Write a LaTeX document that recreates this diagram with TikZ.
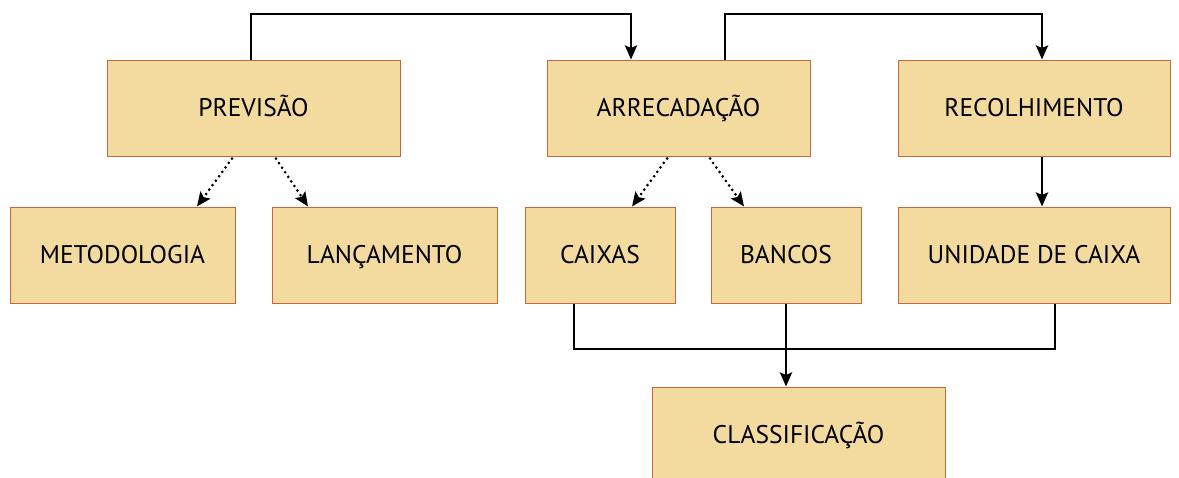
\documentclass[tikz,border=0pt]{standalone}
\usepackage{fontspec}
\setmainfont{PT Sans}
\usetikzlibrary{arrows.meta}
\definecolor{boxfill}{HTML}{F3DA9E}
\definecolor{boxline}{HTML}{C8663C}
\tikzset{
  box/.style={draw=boxline, line width=1pt, fill=boxfill, rectangle, minimum height=96pt, inner sep=0pt, text height=17.5pt, text depth=0pt, font=\fontsize{25.5}{28}\selectfont, text=black},
  tip/.style={-{Stealth[length=14pt,width=12pt,inset=2.5pt]}},
  solidarr/.style={tip, line width=2.8pt, black},
  plain/.style={line width=2.8pt, black},
  dotarr/.style={tip, line width=3pt, black, line cap=round, dash pattern=on 0pt off 5.5pt},
}
\begin{document}
\begin{tikzpicture}[x=1pt,y=-1pt]
\useasboundingbox (0,0) rectangle (1179,477);
\node[box, minimum width=293pt] (prev) at (253.5,108) {PREVISÃO};
\node[box, minimum width=263pt] (arrec) at (678.5,108) {ARRECADAÇÃO};
\node[box, minimum width=272pt] (recol) at (1034,108) {RECOLHIMENTO};
\node[box, minimum width=225pt] (metod) at (122.5,255) {METODOLOGIA};
\node[box, minimum width=225pt] (lanc) at (384.5,255) {LANÇAMENTO};
\node[box, minimum width=150pt] (caixas) at (600,255) {CAIXAS};
\node[box, minimum width=150pt] (bancos) at (786,255) {BANCOS};
\node[box, minimum width=272pt] (unid) at (1034,255) {UNIDADE DE CAIXA};
\node[box, minimum width=293pt] (class) at (798.5,435) {CLASSIFICAÇÃO};
\coordinate (top) at (0,14);
\coordinate (bus) at (0,349);
% top connectors
\draw[solidarr] ([xshift=-2.5pt]prev.north) -- ([xshift=-2.5pt]prev.north |- top) -| ([xshift=-47.5pt]arrec.north);
\draw[solidarr] ([xshift=46.5pt]arrec.north) -- ([xshift=46.5pt]arrec.north |- top) -| ([xshift=8pt]recol.north);
\draw[solidarr] ([xshift=8pt]recol.south) -- ([xshift=8pt]unid.north);
% dotted
\draw[dotarr] ([xshift=-21.5pt,yshift=-2pt]prev.south) -- ([xshift=74.5pt]metod.north);
\draw[dotarr] ([xshift=22.5pt,yshift=-2pt]prev.south) -- ([xshift=-76.5pt]lanc.north);
\draw[dotarr] ([xshift=-11.5pt,yshift=-2pt]arrec.south) -- ([xshift=32pt]caixas.north);
\draw[dotarr] ([xshift=31.5pt,yshift=-2pt]arrec.south) -- ([xshift=-42pt]bancos.north);
% bottom
\draw[plain] ([xshift=-26pt]caixas.south) -- ([xshift=-26pt]caixas.south |- bus) -| ([xshift=21pt]unid.south);
\draw[solidarr] (bancos.south) -- (bancos.south |- class.north);
\end{tikzpicture}
\end{document}
